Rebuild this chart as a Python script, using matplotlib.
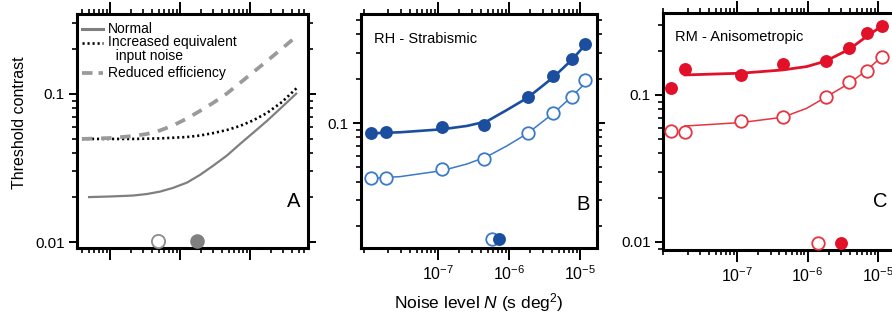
import matplotlib
matplotlib.use("Agg")
import matplotlib.pyplot as plt
from matplotlib.ticker import FixedLocator, LogLocator, NullFormatter, FuncFormatter

plt.rcParams['font.family'] = ['Liberation Sans', 'DejaVu Sans']
plt.rcParams['mathtext.fontset'] = 'custom'
plt.rcParams['mathtext.rm'] = 'Liberation Sans'
plt.rcParams['mathtext.it'] = 'Liberation Sans:italic'
plt.rcParams['mathtext.bf'] = 'Liberation Sans:bold'

# ---------------- Panel A: model curves ----------------
noise_A_normal = [4.85e-8, 1.0e-7, 2.13e-7, 3.38e-7, 5.18e-7, 7.94e-7, 1.26e-6, 1.93e-6,
                  2.96e-6, 4.69e-6, 7.19e-6, 1.10e-5, 1.75e-5, 2.87e-5, 4.69e-5]
thr_normal = [0.0201, 0.0203, 0.0206, 0.0211, 0.0219, 0.0232, 0.0252, 0.0284,
              0.0327, 0.0384, 0.0459, 0.0545, 0.0658, 0.0817, 0.1016]
noise_A_ein = [3.98e-8, 1.0e-7, 2.13e-7, 5.18e-7, 1.26e-6, 1.93e-6, 2.96e-6, 4.69e-6,
               7.19e-6, 1.10e-5, 1.75e-5, 2.87e-5, 4.69e-5]
thr_ein = [0.0497, 0.0497, 0.0497, 0.0501, 0.0512, 0.0524, 0.0544, 0.0571,
           0.0608, 0.0662, 0.0744, 0.0883, 0.110]
noise_A_eff = [3.98e-8, 1.0e-7, 2.13e-7, 3.38e-7, 5.18e-7, 7.94e-7, 1.26e-6, 1.93e-6,
               2.96e-6, 4.69e-6, 7.19e-6, 1.10e-5, 1.75e-5, 2.87e-5, 4.69e-5]
thr_eff = [0.0497, 0.0504, 0.052, 0.0537, 0.0567, 0.0612, 0.0683, 0.0768,
           0.0869, 0.1008, 0.1187, 0.1397, 0.167, 0.203, 0.2466]
A_marker_open_x, A_marker_filled_x, A_marker_y = 4.85e-7, 1.73e-6, 0.0101
legend_labels = ["Normal", "Increased equivalent\n  input noise", "Reduced efficiency"]

# ---------------- Panel B: RH - Strabismic ----------------
B_noise = [1.14e-8, 1.83e-8, 1.13e-7, 4.49e-7, 1.83e-6, 4.21e-6, 7.64e-6, 1.17e-5]
B_filled = [0.0851, 0.0873, 0.0935, 0.0969, 0.151, 0.209, 0.271, 0.343]
B_open = [0.0421, 0.0421, 0.0484, 0.0566, 0.0851, 0.1164, 0.151, 0.196]
B_fit_x = [1.14e-8, 2.92e-8, 1.13e-7, 2.54e-7, 4.85e-7, 9.29e-7, 1.83e-6, 4.21e-6, 7.64e-6, 1.24e-5]
B_fit_filled = [0.0851, 0.0865, 0.0906, 0.0955, 0.1025, 0.1225, 0.1486, 0.2047, 0.2685, 0.3483]
B_fit_x_open = [1.14e-8, 2.92e-8, 1.13e-7, 2.54e-7, 4.85e-7, 9.29e-7, 1.83e-6, 4.21e-6, 7.64e-6, 1.31e-5]
B_fit_open = [0.0421, 0.0432, 0.0474, 0.0526, 0.0590, 0.0698, 0.0851, 0.1164, 0.151, 0.196]
B_marker_open_x, B_marker_filled_x, B_marker_y = 5.70e-7, 7.23e-7, 0.0163

# ---------------- Panel C: RM - Anisometropic ----------------
C_noise = [1.16e-8, 1.83e-8, 1.14e-7, 4.45e-7, 1.81e-6, 3.92e-6, 7.05e-6, 1.13e-5]
C_filled = [0.111, 0.150, 0.137, 0.162, 0.171, 0.210, 0.263, 0.295]
C_open = [0.0569, 0.0563, 0.0665, 0.0705, 0.0974, 0.123, 0.146, 0.180]
C_fit_x_filled = [1.83e-8, 1.14e-7, 4.45e-7, 9.75e-7, 1.81e-6, 3.92e-6, 7.05e-6, 1.13e-5]
C_fit_filled = [0.1368, 0.1406, 0.148, 0.156, 0.170, 0.2047, 0.252, 0.294]
C_fit_x_open = [1.83e-8, 1.14e-7, 4.45e-7, 9.75e-7, 1.81e-6, 3.92e-6, 7.05e-6, 1.19e-5]
C_fit_open = [0.0615, 0.0649, 0.0705, 0.0812, 0.0965, 0.1202, 0.148, 0.187]
C_marker_open_x, C_marker_filled_x, C_marker_y = 1.42e-6, 2.95e-6, 0.0099

x_major = [1e-7, 1e-6, 1e-5]
y_major = [0.01, 0.1]

W, H = 892, 322
fig = plt.figure(figsize=(W / 100, H / 100), dpi=100)


def px_axes(l, r, t, b):
    return fig.add_axes([l / W, (H - b) / H, (r - l) / W, (b - t) / H])


axA = px_axes(77, 308, 14, 248)
axB = px_axes(361, 597, 14, 248)
axC = px_axes(663, 895, 13, 250)


def style(ax, xlim, ylim, xlabels=True):
    ax.set_xscale('log')
    ax.set_yscale('log')
    ax.set_xlim(xlim)
    ax.set_ylim(ylim)
    ax.xaxis.set_major_locator(FixedLocator(x_major))
    ax.xaxis.set_minor_locator(LogLocator(base=10, subs=range(2, 10), numticks=30))
    ax.yaxis.set_major_locator(FixedLocator(y_major))
    ax.yaxis.set_minor_locator(LogLocator(base=10, subs=range(2, 10), numticks=30))
    ax.xaxis.set_minor_formatter(NullFormatter())
    ax.yaxis.set_minor_formatter(NullFormatter())
    ax.yaxis.set_major_formatter(FuncFormatter(lambda v, p: f"{v:g}"))
    ax.tick_params(which='both', direction='out', top=True, right=True,
                   width=1.4, color='black', labelsize=11)
    ax.tick_params(axis='x', which='major', length=8.5, pad=3.5, labelsize=11.5)
    ax.tick_params(axis='y', which='major', length=6, pad=3)
    ax.tick_params(which='minor', length=3.5, width=1.2)
    if not xlabels:
        ax.tick_params(axis='x', labelbottom=False)
    for s in ax.spines.values():
        s.set_linewidth(2.2)


style(axA, (10 ** -7.471, 10 ** -4.171), (0.00911, 0.347), xlabels=False)
style(axB, (10 ** -8.085, 10 ** -4.761), (0.01413, 0.551))
style(axC, (10 ** -8.050, 10 ** -4.759), (0.00882, 0.361))

# ---- Panel A ----
gray = '#7f7f7f'
axA.plot(noise_A_normal, thr_normal, color=gray, lw=1.6, solid_capstyle='butt')
axA.plot(noise_A_ein, thr_ein, color='black', lw=1.9, linestyle=(0, (0.8, 1.1)))
axA.plot(noise_A_eff, thr_eff, color='#9a9a9a', lw=2.7, linestyle=(0, (2.8, 2.3)))
axA.plot([A_marker_open_x], [A_marker_y], 'o', ms=9.5, mfc='white', mec='#8c8c8c', mew=1.3,
         clip_on=False, zorder=5)
axA.plot([A_marker_filled_x], [A_marker_y], 'o', ms=10.5, mfc='#808080', mec='none',
         clip_on=False, zorder=5)

# legend keys (manual, in axes coordinates)
tr = axA.transAxes
x0, x1, xt = 0.022, 0.112, 0.134
rows = [0.936, 0.876, 0.748]
axA.plot([x0, x1], [rows[0]] * 2, transform=tr, color=gray, lw=2.2)
axA.plot([x0, x1], [rows[1]] * 2, transform=tr, color='black', lw=1.9, linestyle=(0, (0.8, 1.1)))
axA.plot([x0, x1], [rows[2]] * 2, transform=tr, color='#9a9a9a', lw=2.7, linestyle=(0, (2.8, 1.6)))
axA.text(xt, rows[0], legend_labels[0], transform=tr, fontsize=10, va='center', ha='left')
axA.text(xt, rows[1] + 0.035, legend_labels[1], transform=tr, fontsize=10, va='top', ha='left',
         linespacing=1.05)
axA.text(xt, rows[2], legend_labels[2], transform=tr, fontsize=10, va='center', ha='left')
axA.text(0.965, 0.197, 'A', transform=tr, fontsize=14.5, ha='right', va='center')

# ---- Panel B ----
blue_dark = '#1b4e9e'
blue_light = '#3a7ac8'
axB.plot(B_fit_x, B_fit_filled, color=blue_dark, lw=1.9, zorder=2)
axB.plot(B_fit_x_open, B_fit_open, color=blue_light, lw=1.1, zorder=2)
axB.plot(B_noise, B_open, 'o', ms=9, mfc='white', mec=blue_light, mew=1.3, zorder=3)
axB.plot(B_noise, B_filled, 'o', ms=9.3, mfc=blue_dark, mec='none', zorder=3)
axB.plot([B_marker_open_x], [B_marker_y], 'o', ms=9, mfc='white', mec=blue_light, mew=1.3, zorder=4)
axB.plot([B_marker_filled_x], [B_marker_y], 'o', ms=9.3, mfc=blue_dark, mec='none', zorder=5)
axB.text(0.055, 0.893, 'RH - Strabismic', transform=axB.transAxes, fontsize=10.5, va='center', ha='left')
axB.text(0.970, 0.184, 'B', transform=axB.transAxes, fontsize=14.5, ha='right', va='center')
axB.set_xlabel('Noise level $N$ (s deg$^2$)', fontsize=12.5)
axB.xaxis.set_label_coords(0.5, -0.185)

# ---- Panel C ----
red = '#e3102a'
red_light = '#e8343f'
axC.plot(C_fit_x_filled, C_fit_filled, color=red, lw=2.0, zorder=2)
axC.plot(C_fit_x_open, C_fit_open, color=red_light, lw=1.1, zorder=2)
axC.plot(C_noise, C_open, 'o', ms=9, mfc='white', mec=red_light, mew=1.3, zorder=3)
axC.plot(C_noise, C_filled, 'o', ms=9.3, mfc=red, mec='none', zorder=3)
axC.plot([C_marker_open_x], [C_marker_y], 'o', ms=9, mfc='white', mec=red_light, mew=1.3,
         zorder=4, clip_on=False)
axC.plot([C_marker_filled_x], [C_marker_y], 'o', ms=9.3, mfc=red, mec='none', zorder=5, clip_on=False)
axC.text(0.052, 0.899, 'RM - Anisometropic', transform=axC.transAxes, fontsize=10.5, va='center', ha='left')
axC.text(0.966, 0.204, 'C', transform=axC.transAxes, fontsize=14.5, ha='right', va='center')

fig.text(20 / W, (H - 123) / H, 'Threshold contrast', rotation=90, fontsize=11.5,
         ha='center', va='center')

fig.savefig('out.png', dpi=100)
